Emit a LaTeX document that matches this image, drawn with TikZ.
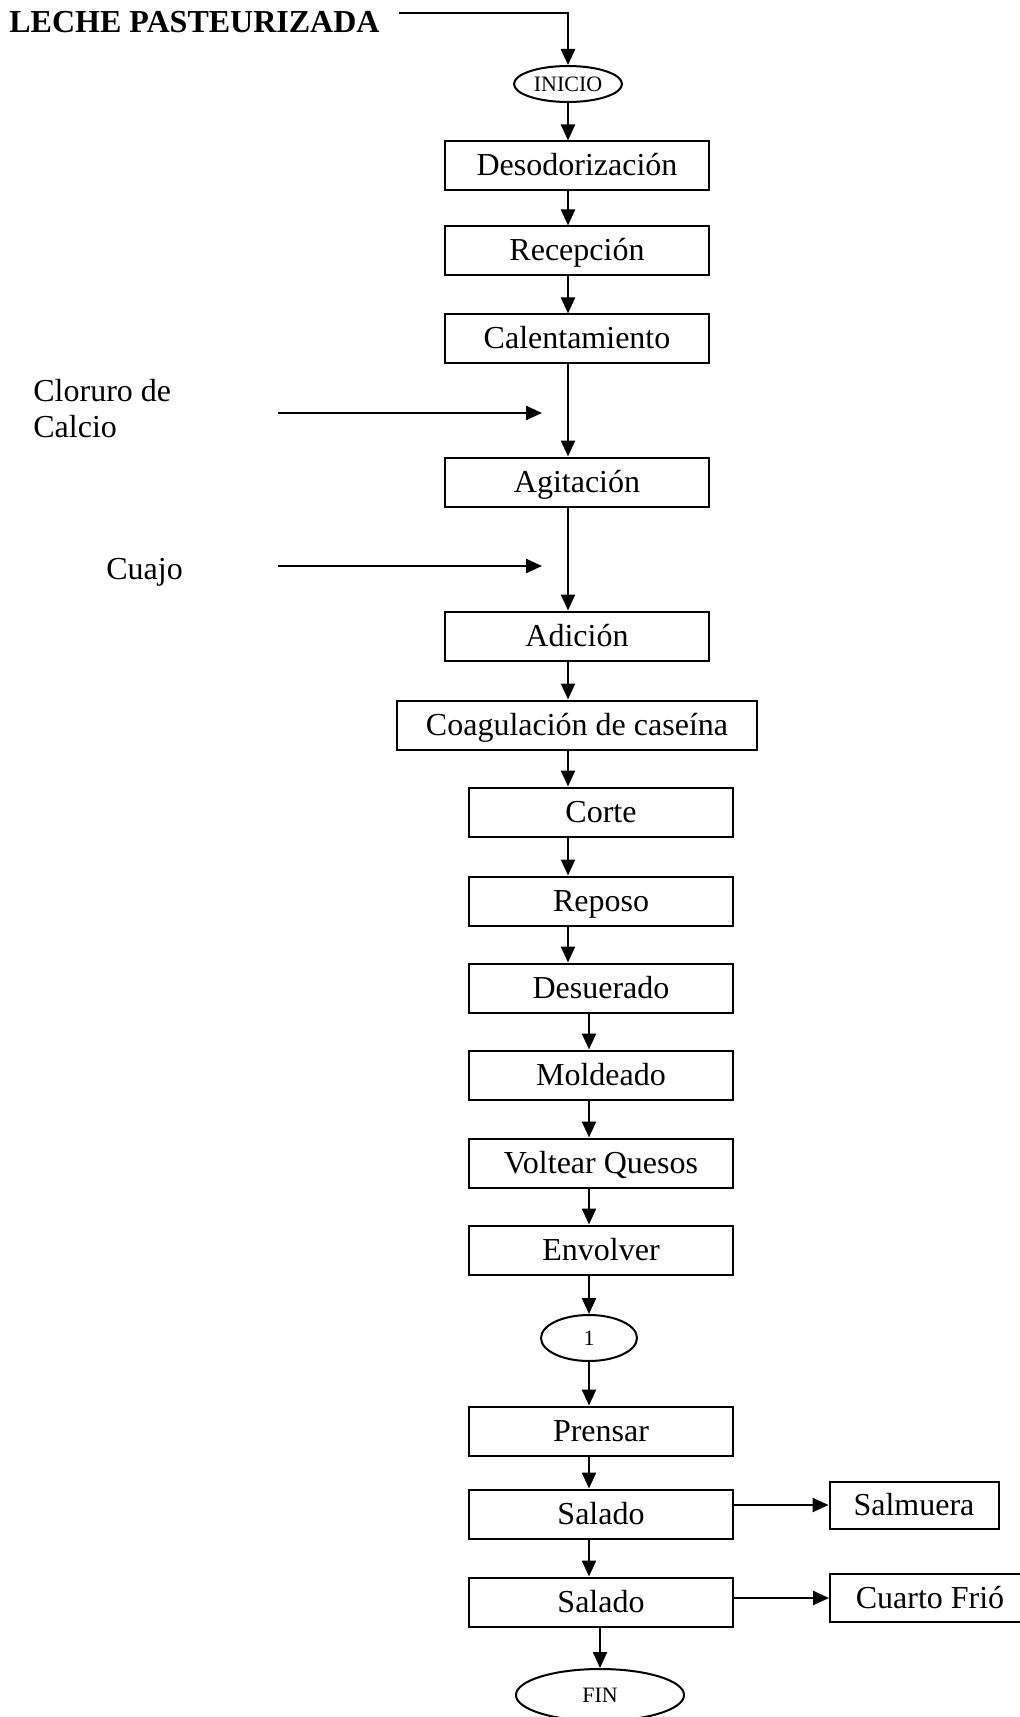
\documentclass[tikz,border=0pt]{standalone}
\usepackage{fontspec}
\setmainfont{Liberation Serif}
\usepackage{tikz}
\usetikzlibrary{shapes.geometric, arrows.meta}
\tikzset{>={Triangle[length=8pt,width=7pt]}}
\tikzset{
	paso/.style={draw, line width=1pt, minimum width=132pt, minimum height=24.5pt, inner sep=0pt, text height=11pt, text depth=1pt, font=\fontsize{16}{19}\selectfont},
	termino/.style={draw, ellipse, line width=1pt, inner sep=0pt, font=\fontsize{11}{13}\selectfont},
	flecha/.style={->, line width=1.2pt},
	rotulo/.style={anchor=west, inner sep=0pt, align=left, font=\fontsize{16}{18}\selectfont}
}

\begin{document}
\begin{tikzpicture}[x=0.5pt, y=-0.5pt]
	\useasboundingbox (0,0) rectangle (1019,1717);
	% entrada
	\node[rotulo, font=\bfseries\fontsize{16}{19}\selectfont] (leche) at (9,22) {LECHE PASTEURIZADA};
	\node[termino, minimum width=54pt, minimum height=18pt] (inicio) at (568,84) {INICIO};
	\draw[flecha] ([xshift=9.5pt,yshift=4.5pt]leche.east) -| (inicio.north);
	% primera columna
	\node[paso] (desod) at (577,166) {Desodorización};
	\node[paso] (recep) at (577,251) {Recepción};
	\node[paso] (calent) at (577,339) {Calentamiento};
	\node[paso] (agit) at (577,482) {Agitación};
	\node[paso] (adicion) at (577,636) {Adición};
	\node[paso, minimum width=180pt] (coag) at (577,725) {Coagulación de caseína};
	% insumos
	\node[rotulo] (cloruro) at (33,409) {Cloruro de\\Calcio};
	\coordinate (cl1) at (278,413);
	\coordinate (cl2) at (542,413);
	\draw[flecha] (cl1) -- (cl2);
	\node[rotulo] (cuajo) at (106,572) {Cuajo};
	\coordinate (cu1) at (278,566);
	\coordinate (cu2) at (542,566);
	\draw[flecha] (cu1) -- (cu2);
	% segunda columna
	\node[paso] (corte) at (601,812) {Corte};
	\node[paso] (reposo) at (601,901) {Reposo};
	\node[paso] (desuer) at (601,988) {Desuerado};
	\node[paso] (molde) at (601,1075) {Moldeado};
	\node[paso] (voltear) at (601,1163) {Voltear Quesos};
	\node[paso] (envolver) at (601,1250) {Envolver};
	\node[termino, minimum width=48pt, minimum height=23pt] (uno) at (589,1338) {1};
	\node[paso] (prensar) at (601,1431) {Prensar};
	\node[paso] (salado1) at (601,1514) {Salado};
	\node[paso] (salado2) at (601,1602) {Salado};
	\node[termino, minimum width=84pt, minimum height=26pt] (fin) at (600,1695) {FIN};
	% salidas
	\node[paso, minimum width=84.5pt, minimum height=23.5pt] (salmuera) at (914,1505) {Salmuera};
	\node[paso, minimum width=100pt, minimum height=24pt] (cuarto) at (930,1598) {Cuarto Frió};
	% flechas
	\foreach \a/\b in {inicio/desod, desod/recep, recep/calent, calent/agit, agit/adicion, adicion/coag, coag/corte, corte/reposo, reposo/desuer}
		\draw[flecha] (\a.south -| inicio) -- (\b.north -| inicio);
	\foreach \a/\b in {desuer/molde, molde/voltear, voltear/envolver, envolver/uno, uno/prensar, prensar/salado1, salado1/salado2}
		\draw[flecha] (\a.south -| uno) -- (\b.north -| uno);
	\draw[flecha] (salado2.south -| fin) -- (fin.north);
	\draw[flecha] (salado1.east |- salmuera) -- (salmuera.west);
	\draw[flecha] (salado2.east |- cuarto) -- (cuarto.west);
\end{tikzpicture}
\end{document}
